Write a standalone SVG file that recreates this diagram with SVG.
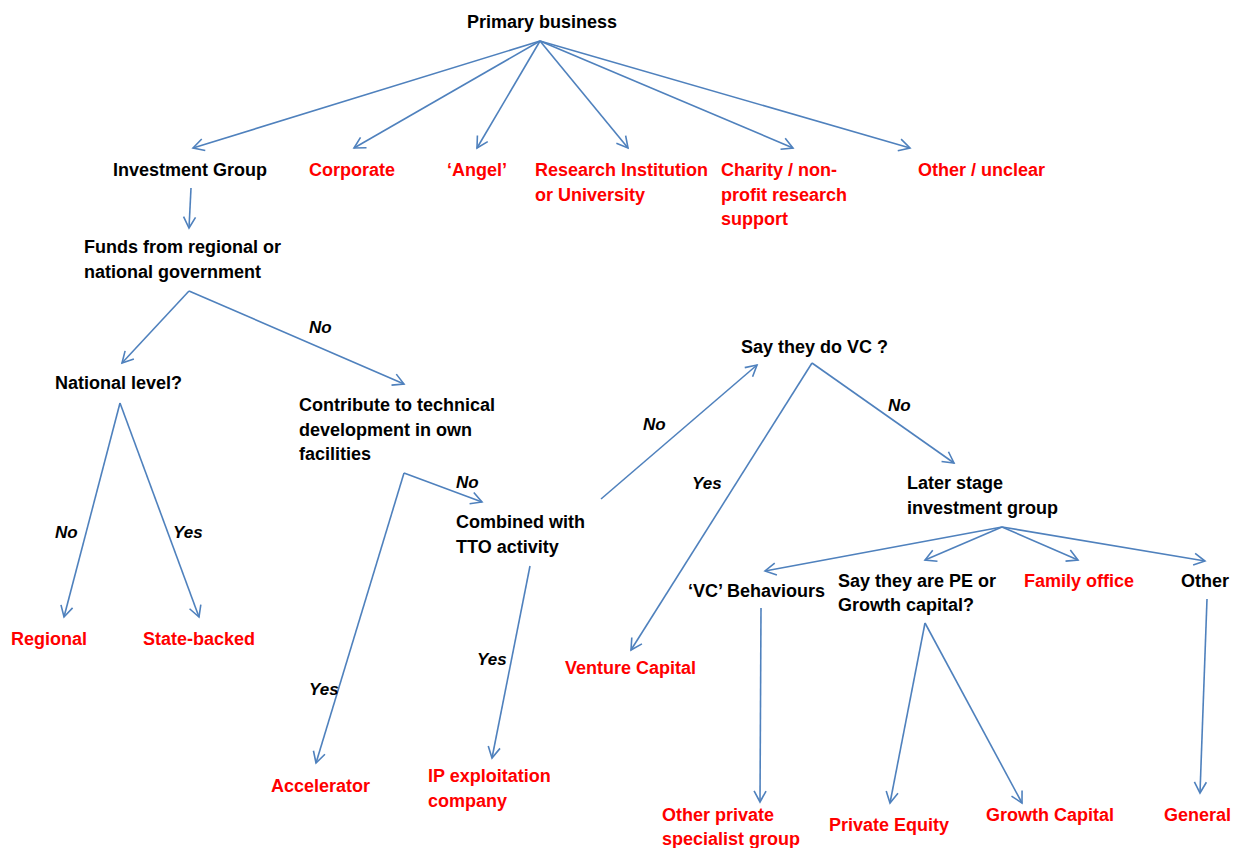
<svg xmlns="http://www.w3.org/2000/svg" width="1234" height="848" viewBox="0 0 1234 848">
<defs>
<style>
text{font-family:"Liberation Sans",Arial,sans-serif;font-weight:bold;font-size:18px}
.k{fill:#000}
.r{fill:#FF0000}
.l{font-style:italic;fill:#000;font-size:17px}
.c line{stroke:#4F81BD;stroke-width:1.6;fill:none;marker-end:url(#ah)}
</style>
<marker id="ah" markerUnits="userSpaceOnUse" markerWidth="16" markerHeight="16" viewBox="-12 -8 14 16" refX="0" refY="0" orient="auto">
<path d="M-11,-6 L0,0 L-11,6" fill="none" stroke="#4F81BD" stroke-width="1.6"/>
</marker>
</defs>
<rect width="1234" height="848" fill="#fff"/>
<g id="connectors" class="c">
<line x1="540" y1="41" x2="193" y2="148"/>
<line x1="540" y1="41" x2="354" y2="148"/>
<line x1="540" y1="41" x2="477" y2="148"/>
<line x1="540" y1="41" x2="628" y2="148"/>
<line x1="540" y1="41" x2="793" y2="148"/>
<line x1="540" y1="41" x2="910" y2="148"/>
<line x1="191" y1="188" x2="189" y2="228"/>
<line x1="189" y1="291" x2="122" y2="363"/>
<line x1="189" y1="291" x2="404" y2="384"/>
<line x1="120" y1="403" x2="64" y2="617"/>
<line x1="120" y1="403" x2="199" y2="617"/>
<line x1="404" y1="473" x2="316" y2="763"/>
<line x1="404" y1="473" x2="482" y2="502"/>
<line x1="530" y1="566" x2="492" y2="758"/>
<line x1="601" y1="499" x2="757" y2="365"/>
<line x1="812" y1="363" x2="631" y2="650"/>
<line x1="812" y1="363" x2="954" y2="463"/>
<line x1="1002" y1="527" x2="765" y2="571"/>
<line x1="1002" y1="527" x2="925" y2="560"/>
<line x1="1002" y1="527" x2="1078" y2="560"/>
<line x1="1002" y1="527" x2="1205" y2="561"/>
<line x1="761" y1="608" x2="760" y2="802"/>
<line x1="925" y1="623" x2="890" y2="803"/>
<line x1="925" y1="623" x2="1022" y2="803"/>
<line x1="1207" y1="599" x2="1200" y2="793"/>
</g>
<g id="labels">
<text class="l" x="309" y="333">No</text>
<text class="l" x="456" y="488">No</text>
<text class="l" x="643" y="430">No</text>
<text class="l" x="888" y="411">No</text>
<text class="l" x="692" y="489">Yes</text>
<text class="l" x="55" y="538">No</text>
<text class="l" x="173" y="538">Yes</text>
<text class="l" x="477" y="665">Yes</text>
<text class="l" x="309" y="695">Yes</text>
</g>
<g id="n-primary"><text class="k" x="467" y="28">Primary business</text></g>
<g id="n-investment-group"><text class="k" x="113" y="176">Investment Group</text></g>
<g id="n-corporate"><text class="r" x="309" y="176">Corporate</text></g>
<g id="n-angel"><text class="r" x="447" y="176">‘Angel’</text></g>
<g id="n-research"><text class="r" x="535" y="176">Research Institution</text><text class="r" x="535" y="201">or University</text></g>
<g id="n-charity"><text class="r" x="721" y="176">Charity / non-</text><text class="r" x="721" y="201">profit research</text><text class="r" x="721" y="225">support</text></g>
<g id="n-other-unclear"><text class="r" x="918" y="176">Other / unclear</text></g>
<g id="n-funds"><text class="k" x="84" y="253">Funds from regional or</text><text class="k" x="84" y="278">national government</text></g>
<g id="n-national"><text class="k" x="55" y="389">National level?</text></g>
<g id="n-contribute"><text class="k" x="299" y="411">Contribute to technical</text><text class="k" x="299" y="436">development in own</text><text class="k" x="299" y="460">facilities</text></g>
<g id="n-combined"><text class="k" x="456" y="528">Combined with</text><text class="k" x="456" y="553">TTO activity</text></g>
<g id="n-say-vc"><text class="k" x="741" y="353">Say they do VC ?</text></g>
<g id="n-later-stage"><text class="k" x="907" y="489">Later stage</text><text class="k" x="907" y="514">investment group</text></g>
<g id="n-vc-behaviours"><text class="k" x="688" y="597">‘VC’ Behaviours</text></g>
<g id="n-say-pe"><text class="k" x="838" y="587">Say they are PE or</text><text class="k" x="838" y="611">Growth capital?</text></g>
<g id="n-family-office"><text class="r" x="1024" y="587">Family office</text></g>
<g id="n-other"><text class="k" x="1181" y="587">Other</text></g>
<g id="n-regional"><text class="r" x="11" y="645">Regional</text></g>
<g id="n-state-backed"><text class="r" x="143" y="645">State-backed</text></g>
<g id="n-venture-capital"><text class="r" x="565" y="674">Venture Capital</text></g>
<g id="n-accelerator"><text class="r" x="271" y="792">Accelerator</text></g>
<g id="n-ip"><text class="r" x="428" y="782">IP exploitation</text><text class="r" x="428" y="807">company</text></g>
<g id="n-other-private"><text class="r" x="662" y="821">Other private</text><text class="r" x="662" y="845">specialist group</text></g>
<g id="n-private-equity"><text class="r" x="829" y="831">Private Equity</text></g>
<g id="n-growth-capital"><text class="r" x="986" y="821">Growth Capital</text></g>
<g id="n-general"><text class="r" x="1164" y="821">General</text></g>
</svg>
